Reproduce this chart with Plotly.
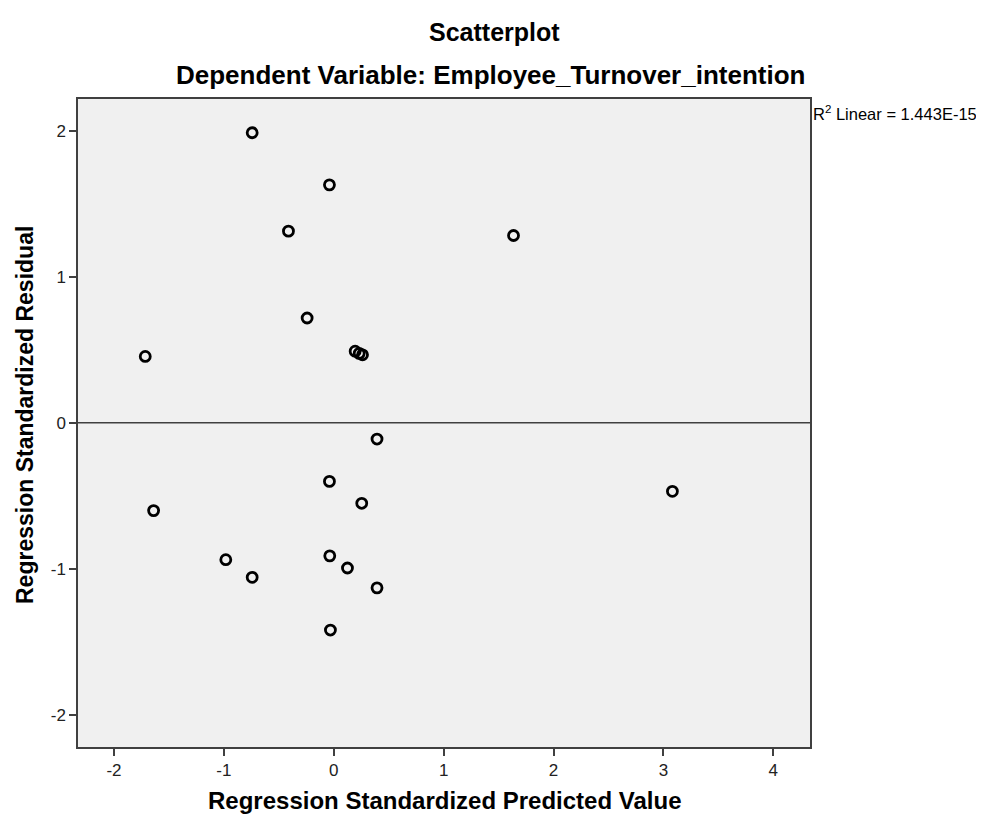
import plotly.graph_objects as go

predicted = [-0.742, -0.039, -0.412, -0.242, 1.636, 3.082, -1.715,
             0.195, 0.232, 0.262, 0.394, -0.039, 0.255, -1.639,
             -0.982, -0.742, -0.036, 0.125, 0.394, -0.030]
residual = [1.986, 1.629, 1.312, 0.717, 1.282, -0.470, 0.454,
            0.490, 0.475, 0.465, -0.112, -0.402, -0.552, -0.602,
            -0.938, -1.059, -0.912, -0.995, -1.131, -1.420]

x_ticks = [-2, -1, 0, 1, 2, 3, 4]
y_ticks = [-2, -1, 0, 1, 2]

FONT = "Liberation Sans, Arial, sans-serif"

fig = go.Figure()
fig.add_trace(go.Scatter(
    x=predicted, y=residual, mode="markers",
    marker=dict(symbol="circle-open", size=10, color="black",
                line=dict(width=2.8, color="black")),
    showlegend=False, hoverinfo="x+y"))

fig.add_hline(y=0, line=dict(color="#404040", width=1.5))

axis_common = dict(showgrid=False, zeroline=False, showline=True, linecolor="#404040",
                   linewidth=1.5, mirror=True, ticks="outside", ticklen=7, tickwidth=1.5,
                   tickcolor="#404040", tickfont=dict(family=FONT, size=17, color="#222"))

fig.update_layout(
    width=968, height=809,
    margin=dict(l=70, r=166, t=91, b=70),
    paper_bgcolor="white", plot_bgcolor="#f0f0f0",
    font=dict(family=FONT, color="black"),
    showlegend=False,
    xaxis=dict(range=[-2.327, 4.334], tickvals=x_ticks,
               ticktext=[str(v) for v in x_ticks], **axis_common),
    yaxis=dict(range=[-2.221, 2.217], tickvals=y_ticks,
               ticktext=[str(v) for v in y_ticks], **axis_common),
    annotations=[
        dict(text="<b>Scatterplot</b>", xref="paper", yref="paper", x=0.569, y=1,
             yshift=67, showarrow=False, font=dict(family=FONT, size=25),
             xanchor="center", yanchor="middle"),
        dict(text="<b>Dependent Variable: Employee_Turnover_intention</b>", xref="paper",
             yref="paper", x=0.563, y=1, yshift=24, showarrow=False,
             font=dict(family=FONT, size=26), xanchor="center", yanchor="middle"),
        dict(text="R<sup>2</sup> Linear = 1.443E-15", xref="paper", yref="paper", x=1,
             xshift=1, y=1, yshift=-14, showarrow=False, font=dict(family=FONT, size=16.5),
             xanchor="left", yanchor="middle"),
        dict(text="<b>Regression Standardized Predicted Value</b>", xref="paper",
             yref="paper", x=0.5, y=0, yshift=-53, showarrow=False,
             font=dict(family=FONT, size=24), xanchor="center", yanchor="middle"),
        dict(text="<b>Regression Standardized Residual</b>", xref="paper", yref="paper",
             x=0, xshift=-53, y=0.5, yshift=8, textangle=-90, showarrow=False,
             font=dict(family=FONT, size=23), xanchor="center", yanchor="middle"),
    ],
)

fig.write_html("out.html")
